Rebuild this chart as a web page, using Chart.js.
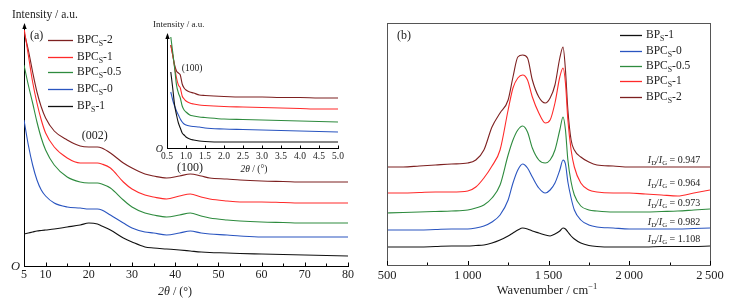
<!DOCTYPE html>
<html>
<head>
<meta charset="utf-8">
<script src="https://cdn.jsdelivr.net/npm/chart.js@4"></script>
<style>
  body { margin: 0; background: #fff; }
  #wrap { position: relative; width: 731px; height: 307px; background: #fff; }
  canvas { position: absolute; }
</style>
</head>
<body>
<div id="wrap">
  <canvas id="xrd" width="370" height="307" style="left:0;top:0"></canvas>
  <canvas id="raman" width="361" height="307" style="left:370px;top:0"></canvas>
  <canvas id="inset" width="200" height="170" style="left:150px;top:10px"></canvas>
</div>
<script>
// ---- (a) XRD, wide angle ----
const xrdX = [5, 6, 7, 8, 9, 10, 12, 15, 18, 20, 22, 23, 25, 28, 30, 33, 35, 38, 41, 43.5, 46, 48, 52, 55, 60, 65, 70, 75, 80];
const xrdBP1   = [32, 33, 34, 35, 35.5, 36, 37, 39, 41, 43, 42, 40, 36, 28, 24, 19, 18, 17, 16, 15, 14, 13.5, 13, 12.5, 12, 11.5, 11, 10.5, 10];
const xrdBPC0  = [146, 121, 101, 86, 76, 70, 63, 59, 58, 57, 57, 56, 51, 43, 38, 34, 33, 31, 33, 35, 33, 32, 31, 30, 29, 29, 29, 29, 29];
const xrdBPC05 = [201, 181, 163, 144, 128, 116, 101, 89, 84, 83, 83, 82, 78, 66, 59, 53, 51, 49, 51, 53, 50, 48, 46, 45, 44, 43.5, 43, 43, 43];
const xrdBPC1  = [238, 211, 184, 163, 146, 133, 119, 108, 103, 103, 103, 102, 98, 84, 77, 71, 69, 67, 70, 72, 69, 67, 65, 64, 64, 63.5, 63, 63, 63];
const xrdBPC2  = [234, 216, 194, 174, 159, 148, 135, 126, 120, 119, 119, 118, 113, 103, 98, 92, 90, 88, 90, 92, 90, 88, 87, 86, 85, 84.5, 84, 84, 84];
const xrdTickLabels = [5, 10, 20, 30, 40, 50, 60, 70, 80];
const xrdMinorTicks = [15, 25, 35, 45, 55, 65, 75];

// ---- (a) inset, small angle ----
const insetX = [0.6, 0.65, 0.7, 0.75, 0.8, 0.85, 0.9, 0.95, 1.0, 1.1, 1.2, 1.35, 1.5, 2.0, 2.5, 3.0, 3.5, 4.0, 4.5, 5.0];
const insetBP1   = [76, 60, 43, 33, 25, 20, 15, 13, 11, 9, 8, 7, 6.5, 6, 6, 6, 6, 6, 6, 6];
const insetBPC0  = [56, 48, 42, 37, 33, 29, 26, 24, 23, 22, 21.5, 21, 20, 19, 18.5, 18, 17.5, 17, 16.5, 16];
const insetBPC05 = [111, 96, 80, 63, 55, 50, 42, 38, 36, 33, 32, 31, 30.5, 29, 28.5, 28, 27.5, 27, 26.5, 26];
const insetBPC1  = [103, 93, 81, 70, 63, 60, 52, 49, 47, 45, 44, 43, 42.5, 41.5, 41, 40.5, 40, 39.5, 39, 39];
const insetBPC2  = [103, 93, 83, 77, 75, 73, 64, 60, 58, 56, 55, 53, 52.5, 51.5, 51, 51, 50.5, 50.5, 50, 50];
const insetTickLabels = [0.5, 1.0, 1.5, 2.0, 2.5, 3.0, 3.5, 4.0, 4.5, 5.0];

// ---- (b) Raman ----
const ramanX = [500, 600, 700, 800, 900, 1000, 1050, 1100, 1150, 1200, 1250, 1280, 1310, 1340, 1370, 1400, 1440, 1480, 1510, 1540, 1570, 1590, 1605, 1620, 1640, 1660, 1700, 1750, 1800, 1900, 2000, 2100, 2200, 2300, 2400, 2500];
const ramanBP1   = [18, 18, 18, 18.5, 19, 19, 19.5, 20, 22, 25, 29, 32, 35, 37, 36, 34, 32, 30, 29, 31, 34, 37, 36, 33, 29, 26, 22, 19.5, 18.5, 18, 18, 18, 18.5, 18.5, 18.5, 19];
const ramanBPC0  = [35, 35, 35, 35.5, 36, 36, 37, 39, 43, 50, 65, 82, 95, 101, 97, 88, 77, 72, 75, 82, 95, 105, 101, 83, 67, 55, 45, 40, 38, 37, 36, 36, 36, 36, 36.5, 37];
const ramanBPC05 = [52, 52.5, 53, 53.5, 54, 55, 57, 60, 67, 80, 110, 125, 135, 139, 133, 117, 105, 102, 105, 115, 135, 148, 135, 105, 83, 70, 59, 55, 54, 53, 53, 53, 53.5, 54, 55, 56];
const ramanBPC1  = [72, 72, 72.5, 73, 73, 74, 78, 87, 99, 115, 155, 177, 187, 190, 185, 168, 152, 142, 145, 162, 188, 197, 182, 145, 115, 98, 82, 75, 73, 72, 72, 71, 70, 69, 72, 75];
const ramanBPC2  = [98, 98, 99, 100, 101, 102, 105, 115, 138, 152, 165, 188, 208, 210, 207, 185, 168, 162, 167, 180, 207, 218, 195, 155, 125, 115, 108, 103, 100, 99, 98, 98, 98, 98, 98, 98];
const ramanTickValues = [500, 1000, 1500, 2000, 2500];
const ramanTickText = ['500', '1\u2009000', '1\u2009500', '2\u2009000', '2\u2009500'];
const ramanMinorTicks = [750, 1250, 1750, 2250];
const ratioText = ['0.947', '0.964', '0.973', '0.982', '1.108'];
const ratioY = [105, 82, 62, 43, 26];

const names = ['BPs-1', 'BPCs-0', 'BPCs-0.5', 'BPCs-1', 'BPCs-2'];
const colors = ['#111111', '#2a55c0', '#2e8b3e', '#ff2a2a', '#7d2020'];

const FAMILY = '"Liberation Serif", "Times New Roman", serif';
const font = (size, italic) => (italic ? 'italic ' : '') + size + 'px ' + FAMILY;

const pts = (xs, ys) => xs.map((x, i) => ({ x: x, y: ys[i] }));
const makeSets = (xs, list) => list.map((ys, i) => ({
  label: names[i], data: pts(xs, ys), borderColor: colors[i], borderWidth: 1.1,
  pointRadius: 0, fill: false, cubicInterpolationMode: 'monotone'
}));

// text with italic / subscript / superscript pieces
function rich(ctx, parts, x, y, size, align) {
  const items = parts.map(p => {
    const m = p[1] || '';
    const small = m.includes('sub') || m.includes('sup');
    const f = font(small ? size * 0.68 : size, m.includes('i'));
    ctx.font = f;
    const dy = m.includes('sub') ? size * 0.32 : (m.includes('sup') ? -size * 0.36 : 0);
    return { t: p[0], f: f, w: ctx.measureText(p[0]).width, dy: dy };
  });
  const total = items.reduce((a, b) => a + b.w, 0);
  let cx = align === 'center' ? x - total / 2 : (align === 'right' ? x - total : x);
  ctx.textAlign = 'left';
  ctx.textBaseline = 'middle';
  items.forEach(it => { ctx.font = it.f; ctx.fillText(it.t, cx, y + it.dy); cx += it.w; });
}

function nameParts(n) {
  const m = n.match(/^(BPC?)s(.*)$/);
  return [[m[1]], ['S', 'sub'], [m[2]]];
}

function drawLegend(ctx, order, x0, x1, xt, ys, size) {
  order.forEach((k, i) => {
    ctx.strokeStyle = colors[k];
    ctx.lineWidth = 1.3;
    ctx.beginPath();
    ctx.moveTo(x0, ys[i] + 0.5);
    ctx.lineTo(x1, ys[i] + 0.5);
    ctx.stroke();
    ctx.fillStyle = '#222';
    rich(ctx, nameParts(names[k]), xt, ys[i], size, 'left');
  });
}

function inwardTicks(ctx, scale, base, isMajor, major, minor) {
  ctx.strokeStyle = '#000';
  ctx.lineWidth = 1;
  ctx.beginPath();
  scale.ticks.forEach(t => {
    const x = Math.round(scale.getPixelForValue(t.value)) + 0.5;
    const len = isMajor(t.value) ? major : minor;
    ctx.moveTo(x, base);
    ctx.lineTo(x, base - len);
  });
  ctx.stroke();
}

function arrowUp(ctx, x, top) {
  ctx.fillStyle = '#000';
  ctx.strokeStyle = '#000';
  ctx.lineWidth = 1;
  ctx.beginPath();
  ctx.moveTo(x, top + 5);
  ctx.lineTo(x, top);
  ctx.stroke();
  ctx.beginPath();
  ctx.moveTo(x, top - 2);
  ctx.lineTo(x - 2.2, top + 4);
  ctx.lineTo(x + 2.2, top + 4);
  ctx.closePath();
  ctx.fill();
}

const baseOptions = (extra) => Object.assign({
  responsive: false, animation: false, events: [],
  plugins: { legend: { display: false }, tooltip: { enabled: false } }
}, extra);

// ---- chart (a) ----
new Chart(document.getElementById('xrd'), {
  type: 'line',
  data: { datasets: makeSets(xrdX, [xrdBP1, xrdBPC0, xrdBPC05, xrdBPC1, xrdBPC2]) },
  options: baseOptions({
    layout: { padding: { top: 26, right: 22, left: 0, bottom: 0 } },
    scales: {
      x: {
        type: 'linear', min: 5, max: 80,
        afterFit: s => { s.height = 41; },
        afterBuildTicks: s => {
          s.ticks = xrdTickLabels.concat(xrdMinorTicks).sort((a, b) => a - b).map(v => ({ value: v }));
        },
        grid: { display: false, drawTicks: false },
        border: { display: true, color: '#000', width: 1 },
        ticks: {
          autoSkip: false, maxRotation: 0, padding: 2, color: '#222',
          font: { family: FAMILY, size: 12 },
          callback: v => xrdTickLabels.includes(v) ? String(v) : ''
        }
      },
      y: {
        type: 'linear', min: 0, max: 240,
        afterFit: s => { s.width = 24; },
        grid: { display: false, drawTicks: false },
        border: { display: true, color: '#000', width: 1 },
        ticks: { display: false }
      }
    }
  }),
  plugins: [{
    id: 'xrdDeco',
    afterDraw(chart) {
      const { ctx, chartArea: a, scales: { x, y } } = chart;
      ctx.save();
      arrowUp(ctx, a.left + 0.5, a.top - 1);
      inwardTicks(ctx, x, a.bottom, v => v % 10 === 0 || v === 5, 3.5, 2.5);
      ctx.fillStyle = '#222';
      rich(ctx, [['Intensity / a.u.']], 12, 15, 11.5, 'left');
      rich(ctx, [['O', 'i']], 20, a.bottom + 1, 12.5, 'right');
      rich(ctx, [['2\u03b8', 'i'], [' / (\u00b0)']], 175, 292, 12, 'center');
      rich(ctx, [['(a)']], 30, 36, 12, 'left');
      rich(ctx, [['(002)']], x.getPixelForValue(21.4), y.getPixelForValue(130), 12, 'center');
      rich(ctx, [['(100)']], x.getPixelForValue(43.4), y.getPixelForValue(98), 12, 'center');
      drawLegend(ctx, [4, 3, 2, 1, 0], 48, 73, 77, [40, 57, 72, 89, 106], 11.5);
      ctx.restore();
    }
  }]
});

// ---- inset ----
new Chart(document.getElementById('inset'), {
  type: 'line',
  data: { datasets: makeSets(insetX, [insetBP1, insetBPC0, insetBPC05, insetBPC1, insetBPC2]) },
  options: baseOptions({
    layout: { padding: { top: 26, right: 12, left: 0, bottom: 0 } },
    scales: {
      x: {
        type: 'linear', min: 0.5, max: 5.0,
        afterFit: s => { s.height = 32; },
        afterBuildTicks: s => { s.ticks = insetTickLabels.map(v => ({ value: v })); },
        grid: { display: false, drawTicks: false },
        border: { display: true, color: '#000', width: 1 },
        ticks: {
          autoSkip: false, maxRotation: 0, padding: 3, color: '#222',
          font: { family: FAMILY, size: 9.5 },
          callback: v => v.toFixed(1)
        }
      },
      y: {
        type: 'linear', min: 0, max: 112,
        afterFit: s => { s.width = 17; },
        grid: { display: false, drawTicks: false },
        border: { display: true, color: '#000', width: 1 },
        ticks: { display: false }
      }
    }
  }),
  plugins: [{
    id: 'insetDeco',
    afterDraw(chart) {
      const { ctx, chartArea: a, scales: { x, y } } = chart;
      ctx.save();
      arrowUp(ctx, a.left + 0.5, a.top - 1);
      inwardTicks(ctx, x, a.bottom, () => true, 2.5, 2.5);
      ctx.fillStyle = '#222';
      rich(ctx, [['Intensity / a.u.']], 3, 15, 9, 'left');
      rich(ctx, [['O', 'i']], 13, a.bottom + 1, 10, 'right');
      rich(ctx, [['2\u03b8', 'i'], [' / (\u00b0)']], 104, 159, 9.5, 'center');
      rich(ctx, [['(100)']], x.getPixelForValue(1.16), y.getPixelForValue(80), 9.5, 'center');
      ctx.restore();
    }
  }]
});

// ---- chart (b) ----
new Chart(document.getElementById('raman'), {
  type: 'line',
  data: { datasets: makeSets(ramanX, [ramanBP1, ramanBPC0, ramanBPC05, ramanBPC1, ramanBPC2]) },
  options: baseOptions({
    layout: { padding: { top: 23, right: 21, left: 0, bottom: 0 } },
    scales: {
      x: {
        type: 'linear', min: 500, max: 2500,
        afterFit: s => { s.height = 42; },
        afterBuildTicks: s => {
          s.ticks = ramanTickValues.concat(ramanMinorTicks).sort((a, b) => a - b).map(v => ({ value: v }));
        },
        grid: { display: false, drawTicks: false },
        border: { display: false },
        ticks: {
          autoSkip: false, maxRotation: 0, padding: 3, color: '#222',
          font: { family: FAMILY, size: 12.5 },
          callback: v => { const i = ramanTickValues.indexOf(v); return i < 0 ? '' : ramanTickText[i]; }
        }
      },
      y: {
        type: 'linear', min: 0, max: 242,
        afterFit: s => { s.width = 17; },
        grid: { display: false, drawTicks: false },
        border: { display: false },
        ticks: { display: false }
      }
    }
  }),
  plugins: [{
    id: 'ramanDeco',
    afterDraw(chart) {
      const { ctx, chartArea: a, scales: { x, y } } = chart;
      ctx.save();
      ctx.strokeStyle = '#555';
      ctx.lineWidth = 1;
      ctx.strokeRect(Math.round(a.left) + 0.5, Math.round(a.top) + 0.5,
        Math.round(a.right - a.left), Math.round(a.bottom - a.top));
      inwardTicks(ctx, x, a.bottom, v => ramanTickValues.includes(v), 4, 2.5);
      ctx.fillStyle = '#222';
      rich(ctx, [['Wavenumber / cm'], ['\u22121', 'sup']], 177, 291, 12.5, 'center');
      rich(ctx, [['(b)']], 27, 36, 12, 'left');
      drawLegend(ctx, [0, 1, 2, 3, 4], 250, 272, 276, [35, 51, 66, 81, 97], 11.5);
      ratioText.forEach((t, i) => {
        rich(ctx, [['I', 'i'], ['D', 'sub'], ['/'], ['I', 'i'], ['G', 'sub'], [' = ' + t]],
          x.getPixelForValue(2115), y.getPixelForValue(ratioY[i]), 10, 'left');
      });
      ctx.restore();
    }
  }]
});
</script>
</body>
</html>
